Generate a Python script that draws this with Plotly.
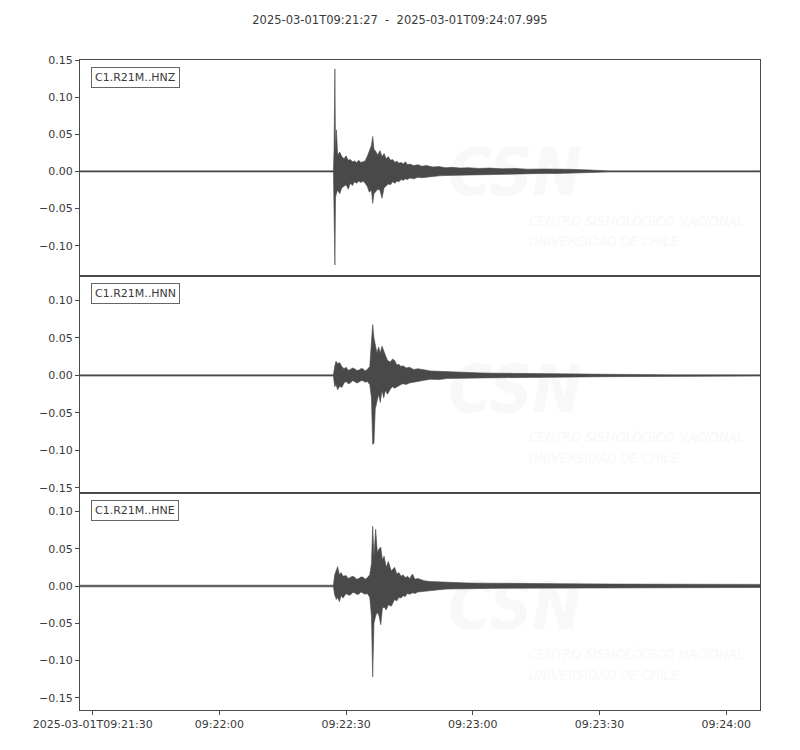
import plotly.graph_objects as go
from plotly.subplots import make_subplots

title_text = "2025-03-01T09:21:27  -  2025-03-01T09:24:07.995"
duration = 160.995  # seconds after 09:21:27
channels = ["C1.R21M..HNZ", "C1.R21M..HNN", "C1.R21M..HNE"]

# Envelope (max / min per time), seconds after start
hnz_t = [0, 60.0, 60.15, 60.35, 60.5, 60.7, 61.0, 61.5, 62.0, 62.5, 63.0, 63.5, 64.0, 64.5,
         65.0, 65.5, 66.0, 66.5, 67.0, 67.5, 68.0, 68.5, 69.0, 69.3, 69.6, 70.0, 70.5, 71.0,
         71.5, 72.0, 72.5, 73.0, 73.5, 74.0, 74.6, 75.0, 75.5, 76.0, 76.6, 77.0, 77.6, 78.0,
         79.0, 80.0, 81.0, 82.0, 83.5, 85.0, 86.5, 88.0, 90.0, 92.0, 94.5, 97.0, 100.0, 103.0,
         106.0, 110.0, 113.0, 116.0, 121.0, 125.0, 160.995]
hnz_up = [0.0008, 0.0008, 0.030, 0.138, 0.025, 0.056, 0.022, 0.026, 0.020, 0.017, 0.021, 0.015,
          0.016, 0.013, 0.014, 0.012, 0.015, 0.012, 0.013, 0.014, 0.020, 0.028, 0.035, 0.047,
          0.030, 0.027, 0.022, 0.028, 0.020, 0.024, 0.017, 0.020, 0.015, 0.016, 0.012, 0.014,
          0.011, 0.012, 0.010, 0.013, 0.009, 0.010, 0.008, 0.009, 0.007, 0.008, 0.006, 0.0065,
          0.005, 0.0055, 0.0045, 0.005, 0.004, 0.0045, 0.0035, 0.004, 0.003, 0.0033, 0.0026,
          0.0028, 0.0018, 0.0008, 0.0008]
hnz_lo = [-0.0008, -0.0008, -0.060, -0.126, -0.035, -0.030, -0.025, -0.030, -0.022, -0.020,
          -0.018, -0.024, -0.016, -0.019, -0.014, -0.016, -0.013, -0.015, -0.013, -0.016,
          -0.020, -0.028, -0.025, -0.043, -0.030, -0.028, -0.024, -0.025, -0.036, -0.022,
          -0.020, -0.017, -0.018, -0.014, -0.016, -0.013, -0.014, -0.011, -0.012, -0.010,
          -0.011, -0.009, -0.010, -0.008, -0.0085, -0.007, -0.007, -0.006, -0.0055, -0.005,
          -0.0048, -0.004, -0.0042, -0.0035, -0.0036, -0.003, -0.0032, -0.0027, -0.0028,
          -0.0024, -0.0018, -0.0008, -0.0008]

hnn_t = [0, 60.0, 60.3, 60.6, 61.0, 61.5, 62.0, 62.5, 63.0, 63.5, 64.0, 64.5, 65.0, 65.5, 66.0,
         66.5, 67.0, 67.5, 68.0, 68.6, 69.0, 69.3, 69.6, 69.9, 70.3, 70.7, 71.1, 71.5, 71.9,
         72.3, 72.8, 73.5, 74.0, 74.5, 75.0, 75.5, 76.0, 76.5, 77.2, 78.0, 79.0, 80.0, 81.5,
         83.0, 85.0, 87.0, 89.0, 91.0, 95.0, 99.0, 104.0, 110.0, 118.0, 125.0, 140.0, 160.995]
hnn_up = [0.0008, 0.0008, 0.012, 0.019, 0.016, 0.017, 0.012, 0.009, 0.011, 0.007, 0.008, 0.010,
          0.009, 0.007, 0.007, 0.009, 0.009, 0.006, 0.008, 0.012, 0.045, 0.068, 0.050, 0.040,
          0.030, 0.038, 0.030, 0.039, 0.033, 0.025, 0.020, 0.018, 0.022, 0.020, 0.014, 0.015,
          0.012, 0.013, 0.010, 0.011, 0.008, 0.009, 0.007, 0.006, 0.0055, 0.005, 0.0042, 0.004,
          0.0034, 0.003, 0.0026, 0.0022, 0.002, 0.0016, 0.0009, 0.0008]
hnn_lo = [-0.0008, -0.0008, -0.015, -0.012, -0.019, -0.014, -0.016, -0.010, -0.008, -0.011,
          -0.010, -0.007, -0.008, -0.010, -0.009, -0.007, -0.007, -0.009, -0.008, -0.012,
          -0.030, -0.092, -0.090, -0.045, -0.035, -0.025, -0.036, -0.020, -0.030, -0.020,
          -0.025, -0.018, -0.015, -0.017, -0.015, -0.014, -0.012, -0.011, -0.012, -0.010,
          -0.009, -0.008, -0.0065, -0.005, -0.0055, -0.004, -0.0045, -0.004, -0.0033, -0.003,
          -0.0026, -0.002, -0.002, -0.0016, -0.0009, -0.0008]

hne_t = [0, 60.0, 60.3, 60.7, 61.0, 61.4, 61.8, 62.3, 63.0, 63.5, 64.0, 64.5, 65.0, 65.5, 66.0,
         66.5, 67.0, 67.5, 68.0, 68.6, 69.0, 69.3, 69.6, 70.0, 70.4, 70.8, 71.2, 71.6, 72.0,
         72.5, 73.0, 73.7, 74.5, 75.0, 75.5, 76.0, 76.5, 77.0, 77.5, 78.1, 78.7, 79.3, 80.0,
         81.5, 83.0, 85.0, 87.0, 89.5, 92.0, 96.0, 100.0, 107.0, 115.0, 127.0, 140.0, 160.995]
hne_up = [0.0011, 0.0011, 0.015, 0.022, 0.026, 0.015, 0.018, 0.013, 0.014, 0.010, 0.011, 0.013,
          0.012, 0.009, 0.010, 0.012, 0.012, 0.009, 0.011, 0.015, 0.030, 0.080, 0.040, 0.076,
          0.045, 0.050, 0.052, 0.035, 0.040, 0.025, 0.033, 0.020, 0.025, 0.016, 0.018, 0.013,
          0.015, 0.011, 0.013, 0.010, 0.016, 0.009, 0.010, 0.007, 0.006, 0.0055, 0.005, 0.0045,
          0.004, 0.0038, 0.0035, 0.0032, 0.003, 0.0026, 0.0025, 0.0022]
hne_lo = [-0.0011, -0.0011, -0.012, -0.018, -0.015, -0.021, -0.013, -0.016, -0.010, -0.012,
          -0.012, -0.009, -0.009, -0.011, -0.011, -0.008, -0.009, -0.011, -0.010, -0.015,
          -0.040, -0.122, -0.050, -0.040, -0.035, -0.040, -0.052, -0.030, -0.028, -0.032,
          -0.025, -0.027, -0.018, -0.020, -0.015, -0.016, -0.013, -0.014, -0.010, -0.011,
          -0.009, -0.010, -0.008, -0.007, -0.006, -0.005, -0.004, -0.0042, -0.0035, -0.0033,
          -0.003, -0.0028, -0.0025, -0.0022, -0.002, -0.002]

x_tickvals = [3, 33, 63, 93, 123, 153]
x_ticktext = ["2025-03-01T09:21:30", "09:22:00", "09:22:30", "09:23:00", "09:23:30", "09:24:00"]

y_ranges = [[-0.1408, 0.15], [-0.1568, 0.1327], [-0.1662, 0.1247]]
y_tickvals = [[0.15, 0.10, 0.05, 0.0, -0.05, -0.10],
              [0.10, 0.05, 0.0, -0.05, -0.10, -0.15],
              [0.10, 0.05, 0.0, -0.05, -0.10, -0.15]]

series = [(hnz_t, hnz_up, hnz_lo), (hnn_t, hnn_up, hnn_lo), (hne_t, hne_up, hne_lo)]

WAVE = "#494949"
AXC = "#4a4a4a"
TXT = "#3a3a3a"
WM = "#f8f8f8"
FONT = "DejaVu Sans"
WMFONT = "DejaVu Sans Condensed, Liberation Sans, sans-serif"

fig = make_subplots(rows=3, cols=1, shared_xaxes=True, vertical_spacing=0)

for i, (t, up, lo) in enumerate(series):
    row = i + 1
    ylo, yhi = y_ranges[i]
    span = yhi - ylo
    # faint watermark (behind the trace)
    fig.add_trace(go.Scatter(x=[duration * 0.64], y=[ylo + 0.45 * span], mode="text",
                             text=["CSN"], textposition="middle center",
                             textfont=dict(family=WMFONT, size=66, color=WM,
                                           style="italic", weight="bold"),
                             hoverinfo="skip", showlegend=False), row=row, col=1)
    fig.add_trace(go.Scatter(x=[duration * 0.66, duration * 0.66],
                             y=[ylo + 0.25 * span, ylo + 0.155 * span], mode="text",
                             text=["CENTRO SISMOLÓGICO NACIONAL", "UNIVERSIDAD DE CHILE"],
                             textposition="middle right",
                             textfont=dict(family=WMFONT, size=14, color=WM, style="italic"),
                             hoverinfo="skip", showlegend=False), row=row, col=1)
    # waveform envelope as a closed polygon
    px = list(t) + list(reversed(t))
    py = list(up) + list(reversed(lo))
    fig.add_trace(go.Scatter(x=px, y=py, mode="lines", fill="toself", fillcolor=WAVE,
                             line=dict(color=WAVE, width=0.6), hoverinfo="skip",
                             showlegend=False), row=row, col=1)
    fig.update_yaxes(row=row, col=1, range=[ylo, yhi], tickvals=y_tickvals[i],
                     ticktext=[("−%.2f" % -v) if v < 0 else ("%.2f" % v) for v in y_tickvals[i]],
                     showgrid=False, zeroline=False, showline=True, linecolor=AXC, linewidth=1,
                     mirror=True, ticks="outside", ticklen=4, tickcolor=AXC,
                     tickfont=dict(family=FONT, size=11, color=TXT))
    fig.update_xaxes(row=row, col=1, range=[0, duration], tickvals=x_tickvals,
                     ticktext=x_ticktext, showgrid=False, zeroline=False, showline=True,
                     linecolor=AXC, linewidth=1, mirror=True,
                     ticks="outside" if row == 3 else "", ticklen=4, tickcolor=AXC,
                     showticklabels=(row == 3),
                     tickfont=dict(family=FONT, size=11, color=TXT))
    yref = "y domain" if row == 1 else "y%d domain" % row
    xref = "x domain" if row == 1 else "x%d domain" % row
    fig.add_annotation(xref=xref, yref=yref, x=0.016, y=0.968, xanchor="left", yanchor="top",
                       text=channels[i], showarrow=False, bordercolor="#666666", borderwidth=1,
                       borderpad=3, bgcolor="white",
                       font=dict(family=FONT, size=11, color=TXT))

# exact panel domains
h = 650.0
fig.update_layout(
    yaxis=dict(domain=[434 / h, 1.0]),
    yaxis2=dict(domain=[217 / h, 434 / h]),
    yaxis3=dict(domain=[0.0, 217 / h]),
)

# the page body adds an 8px offset; size/margins compensate so the plot sits at 80..760 x 60..710
W, H = 784, 734
fig.update_layout(
    width=W, height=H,
    margin=dict(l=72, r=32, t=52, b=32),
    paper_bgcolor="white", plot_bgcolor="white",
    title=dict(text=title_text, x=0.5, xref="container", xanchor="center",
               y=1 - 12 / H, yref="container", yanchor="middle",
               font=dict(family=FONT, size=11.5, color=TXT)),
    showlegend=False,
)

fig.write_html("out.html")
